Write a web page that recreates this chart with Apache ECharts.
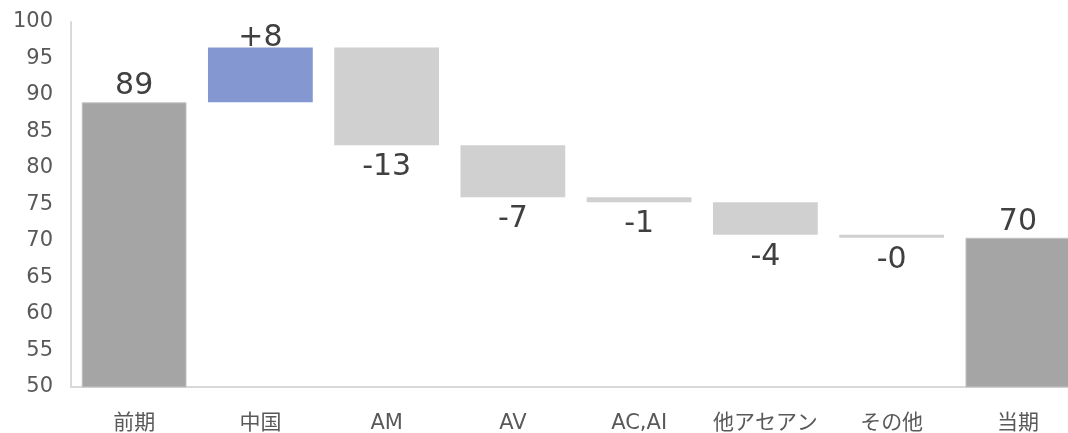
<!DOCTYPE html>
<html>
<head>
<meta charset="utf-8">
<script src="https://cdn.jsdelivr.net/npm/echarts@6/dist/echarts.min.js"></script>
<style>
  html, body { margin: 0; padding: 0; background: #fff; }
  #chart { width: 1068px; height: 433px; }
</style>
</head>
<body>
<div id="chart"></div>
<script>
// 前期 -> 当期 のウォーターフォール
const categories = ['前期', '中国', 'AM', 'AV', 'AC,AI', '他アセアン', 'その他', '当期']
const startTotal = 89.0
const changes = [7.5, -13.4, -7.1, -0.7, -4.45, -0.4]
const yTicks = { min: 50, max: 100, interval: 5 }

const cTotal = '#a5a5a5'
const cUp = '#8497d1'
const cDown = '#d0d0d0'
const fontFamily = "'DejaVu Sans', 'Noto Sans CJK JP', sans-serif"

// 透明の土台 + 表示するバー
const baseData = []
const barData = []
let cur = startTotal

baseData.push('-')
barData.push({
  value: startTotal,
  itemStyle: { color: cTotal, borderColor: '#c4c4c4', borderWidth: 1 },
  label: { position: 'top', distance: 1, formatter: String(Math.round(startTotal)) }
})

changes.forEach(d => {
  const next = cur + d
  const txt = (d > 0 ? '+' : '-') + Math.round(Math.abs(d))
  baseData.push(Math.min(cur, next))
  barData.push({
    value: Math.abs(d),
    itemStyle: { color: d > 0 ? cUp : cDown },
    label: d > 0
      ? { position: 'top', distance: -6, formatter: txt }
      : { position: 'bottom', distance: 7, formatter: txt }
  })
  cur = next
})

baseData.push('-')
barData.push({
  value: cur,
  itemStyle: { color: cTotal, borderColor: '#c4c4c4', borderWidth: 1 },
  label: { position: 'top', distance: 1, formatter: String(Math.round(cur)) }
})

const chart = echarts.init(document.getElementById('chart'))
chart.setOption({
  animation: false,
  textStyle: { fontFamily },
  grid: {
    left: 71,
    top: 22,
    right: -13,
    bottom: 46,
    containLabel: false,
    outerBoundsMode: 'none'
  },
  xAxis: {
    type: 'category',
    data: categories,
    axisTick: { show: false },
    axisLine: { lineStyle: { color: '#d9d9d9', width: 2 } },
    axisLabel: {
      color: '#595959',
      fontSize: 21,
      margin: 26,
      interval: 0,
      fontFamily
    }
  },
  yAxis: {
    type: 'value',
    min: yTicks.min,
    max: yTicks.max,
    interval: yTicks.interval,
    splitLine: { show: false },
    axisTick: { show: false },
    axisLine: { show: true, lineStyle: { color: '#d9d9d9', width: 2 } },
    axisLabel: {
      color: '#595959',
      fontSize: 21,
      margin: 18,
      fontFamily
    }
  },
  series: [
    {
      type: 'bar',
      stack: 'wf',
      barCategoryGap: '17%',
      itemStyle: { color: 'transparent' },
      emphasis: { disabled: true },
      data: baseData
    },
    {
      type: 'bar',
      stack: 'wf',
      barCategoryGap: '17%',
      label: {
        show: true,
        color: '#404040',
        fontSize: 30,
        fontFamily
      },
      data: barData
    }
  ]
})
</script>
</body>
</html>
